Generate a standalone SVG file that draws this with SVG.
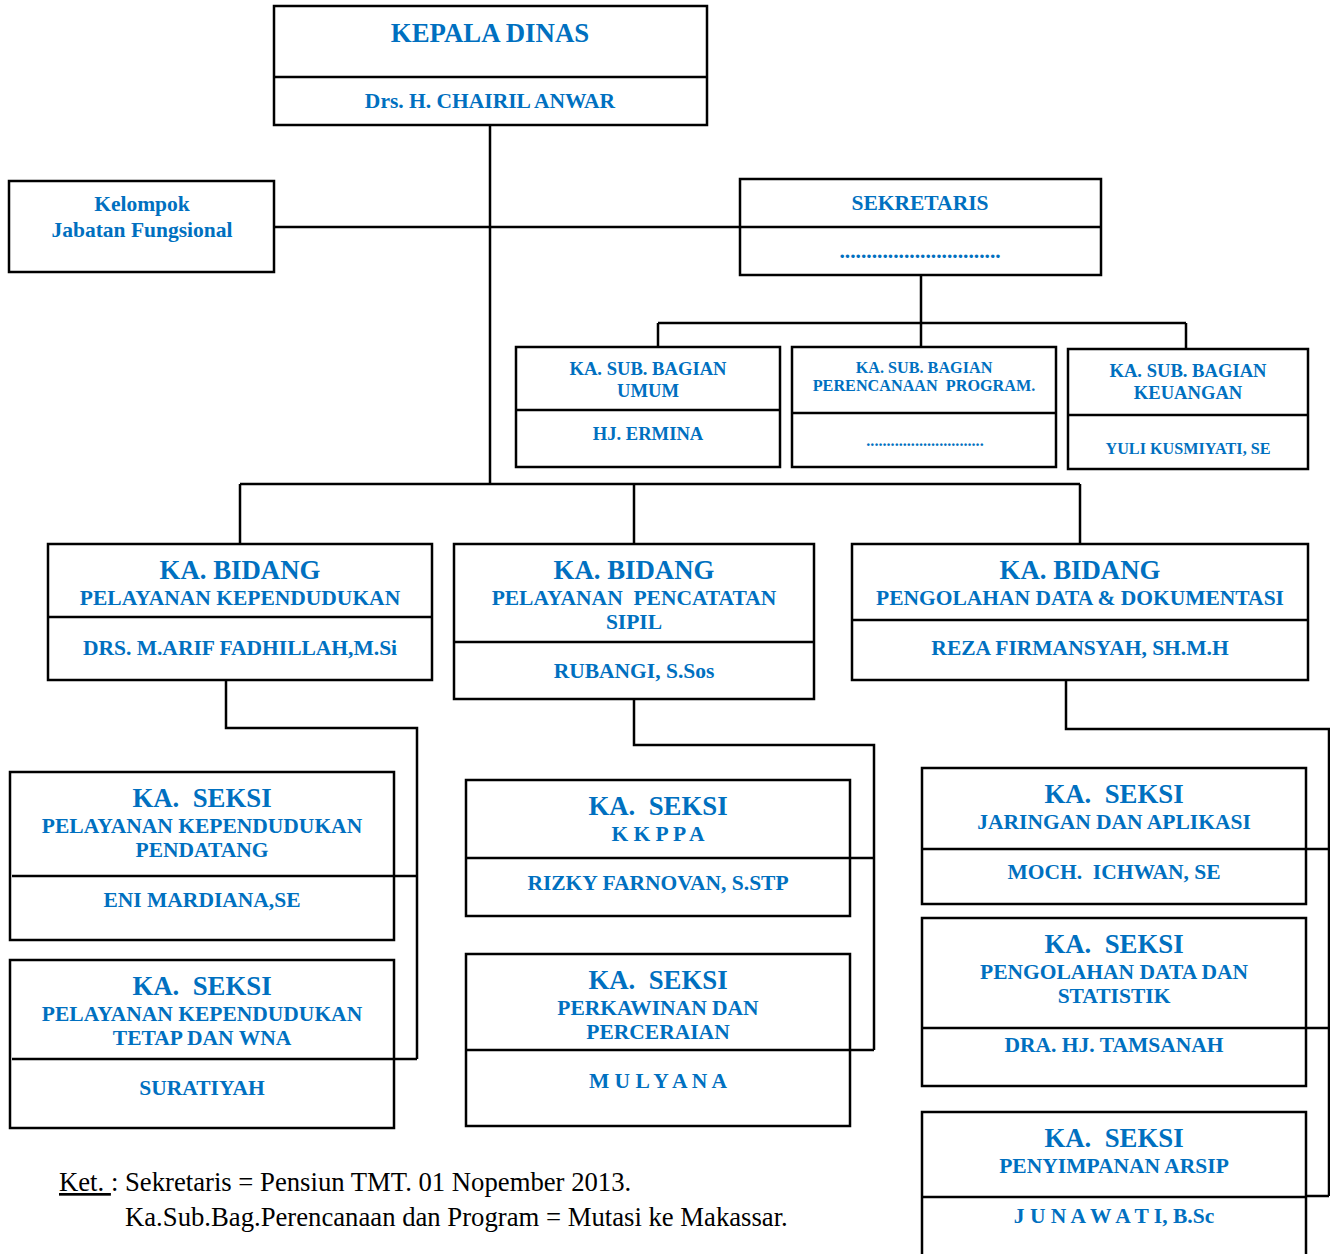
<svg xmlns="http://www.w3.org/2000/svg" width="1330" height="1254" viewBox="0 0 1330 1254">
<style>
.box{fill:#fff;stroke:#000;stroke-width:2.5}
.ln{fill:none;stroke:#000;stroke-width:2.5}
text{font-family:"Liberation Serif","Times New Roman",serif;font-weight:bold;fill:#0070C0;text-anchor:middle;white-space:pre}
.t26{font-size:26.8px}
.t19{font-size:21.5px}
.t18{font-size:18.6px}
.t15{font-size:16.2px}
.note{font-weight:normal;fill:#000;text-anchor:start;font-size:26.7px}
</style>
<rect width="1330" height="1254" fill="#fff"/>
<g id="connectors">
<path class="ln" d="M490,125V484"/>
<path class="ln" d="M274,227H740"/>
<path class="ln" d="M921,275V323M658,323H1186M658,323V347M921,323V347M1186,323V349"/>
<path class="ln" d="M240,484H1080M240,484V544M634,484V544M1080,484V544"/>
<path class="ln" d="M226,680V728H417V1059M394,876H417M394,1059H417"/>
<path class="ln" d="M634,699V745H874V1050M850,858H874M850,1050H874"/>
<path class="ln" d="M1066,680V729H1329V1196M1306,849H1329M1306,1028H1329M1306,1196H1329"/>
</g>
<g id="kepala-dinas">
<rect class="box" x="274" y="6" width="433" height="119"/>
<path class="ln" d="M274,77H707"/>
<text class="t26" x="490" y="42">KEPALA DINAS</text>
<text class="t19" x="490" y="108">Drs. H. CHAIRIL ANWAR</text>
</g>
<g id="kelompok-jabatan-fungsional">
<rect class="box" x="9" y="181" width="265" height="91"/>
<text class="t19" x="142" y="211">Kelompok</text>
<text class="t19" x="142" y="237">Jabatan Fungsional</text>
</g>
<g id="sekretaris">
<rect class="box" x="740" y="179" width="361" height="96"/>
<path class="ln" d="M740,227H1101"/>
<text class="t19" x="920" y="210">SEKRETARIS</text>
<text class="t19" x="920" y="258">..............................</text>
</g>
<g id="subbag-umum">
<rect class="box" x="516" y="347" width="264" height="120"/>
<path class="ln" d="M516,410H780"/>
<text class="t18" x="648" y="375">KA. SUB. BAGIAN</text>
<text class="t18" x="648" y="397">UMUM</text>
<text class="t18" x="648" y="440">HJ. ERMINA</text>
</g>
<g id="subbag-perencanaan">
<rect class="box" x="792" y="347" width="264" height="120"/>
<path class="ln" d="M792,413H1056"/>
<text class="t15" x="924" y="373">KA. SUB. BAGIAN</text>
<text class="t15" x="924" y="391">PERENCANAAN  PROGRAM.</text>
<text class="t15" x="925" y="446">.............................</text>
</g>
<g id="subbag-keuangan">
<rect class="box" x="1068" y="349" width="240" height="120"/>
<path class="ln" d="M1068,415H1308"/>
<text class="t18" x="1188" y="377">KA. SUB. BAGIAN</text>
<text class="t18" x="1188" y="399">KEUANGAN</text>
<text class="t15" x="1188" y="454">YULI KUSMIYATI, SE</text>
</g>
<g id="bidang-kependudukan">
<rect class="box" x="48" y="544" width="384" height="136"/>
<path class="ln" d="M48,617H432"/>
<text class="t26" x="240" y="579">KA. BIDANG</text>
<text class="t19" x="240" y="605">PELAYANAN KEPENDUDUKAN</text>
<text class="t19" x="240" y="655">DRS. M.ARIF FADHILLAH,M.Si</text>
</g>
<g id="bidang-pencatatan-sipil">
<rect class="box" x="454" y="544" width="360" height="155"/>
<path class="ln" d="M454,642H814"/>
<text class="t26" x="634" y="579">KA. BIDANG</text>
<text class="t19" x="634" y="605">PELAYANAN  PENCATATAN</text>
<text class="t19" x="634" y="629">SIPIL</text>
<text class="t19" x="634" y="678">RUBANGI, S.Sos</text>
</g>
<g id="bidang-pengolahan-data">
<rect class="box" x="852" y="544" width="456" height="136"/>
<path class="ln" d="M852,620H1308"/>
<text class="t26" x="1080" y="579">KA. BIDANG</text>
<text class="t19" x="1080" y="605">PENGOLAHAN DATA &amp; DOKUMENTASI</text>
<text class="t19" x="1080" y="655">REZA FIRMANSYAH, SH.M.H</text>
</g>
<g id="seksi-pendatang">
<rect class="box" x="10" y="772" width="384" height="168"/>
<path class="ln" d="M12,876H394"/>
<text class="t26" x="202" y="807">KA.  SEKSI</text>
<text class="t19" x="202" y="833">PELAYANAN KEPENDUDUKAN</text>
<text class="t19" x="202" y="857">PENDATANG</text>
<text class="t19" x="202" y="907">ENI MARDIANA,SE</text>
</g>
<g id="seksi-tetap-wna">
<rect class="box" x="10" y="960" width="384" height="168"/>
<path class="ln" d="M12,1059H394"/>
<text class="t26" x="202" y="995">KA.  SEKSI</text>
<text class="t19" x="202" y="1021">PELAYANAN KEPENDUDUKAN</text>
<text class="t19" x="202" y="1045">TETAP DAN WNA</text>
<text class="t19" x="202" y="1095">SURATIYAH</text>
</g>
<g id="seksi-kkppa">
<rect class="box" x="466" y="780" width="384" height="136"/>
<path class="ln" d="M466,858H850"/>
<text class="t26" x="658" y="815">KA.  SEKSI</text>
<text class="t19" x="658" y="841">K K P P A</text>
<text class="t19" x="658" y="890">RIZKY FARNOVAN, S.STP</text>
</g>
<g id="seksi-perkawinan">
<rect class="box" x="466" y="954" width="384" height="172"/>
<path class="ln" d="M466,1050H850"/>
<text class="t26" x="658" y="989">KA.  SEKSI</text>
<text class="t19" x="658" y="1015">PERKAWINAN DAN</text>
<text class="t19" x="658" y="1039">PERCERAIAN</text>
<text class="t19" x="658" y="1088">M U L Y A N A</text>
</g>
<g id="seksi-jaringan">
<rect class="box" x="922" y="768" width="384" height="136"/>
<path class="ln" d="M922,849H1306"/>
<text class="t26" x="1114" y="803">KA.  SEKSI</text>
<text class="t19" x="1114" y="829">JARINGAN DAN APLIKASI</text>
<text class="t19" x="1114" y="879">MOCH.  ICHWAN, SE</text>
</g>
<g id="seksi-statistik">
<rect class="box" x="922" y="918" width="384" height="168"/>
<path class="ln" d="M922,1028H1306"/>
<text class="t26" x="1114" y="953">KA.  SEKSI</text>
<text class="t19" x="1114" y="979">PENGOLAHAN DATA DAN</text>
<text class="t19" x="1114" y="1003">STATISTIK</text>
<text class="t19" x="1114" y="1052">DRA. HJ. TAMSANAH</text>
</g>
<g id="seksi-arsip">
<path class="box" d="M922,1256V1112H1306V1256"/>
<path class="ln" d="M922,1197H1306"/>
<text class="t26" x="1114" y="1147">KA.  SEKSI</text>
<text class="t19" x="1114" y="1173">PENYIMPANAN ARSIP</text>
<text class="t19" x="1114" y="1223">J U N A W A T I, B.Sc</text>
</g>
<g id="keterangan">
<text class="note" x="59" y="1191"><tspan text-decoration="underline">Ket. </tspan>: Sekretaris = Pensiun TMT. 01 Nopember 2013.</text>
<text class="note" x="125" y="1226">Ka.Sub.Bag.Perencanaan dan Program = Mutasi ke Makassar.</text>
</g>
</svg>
